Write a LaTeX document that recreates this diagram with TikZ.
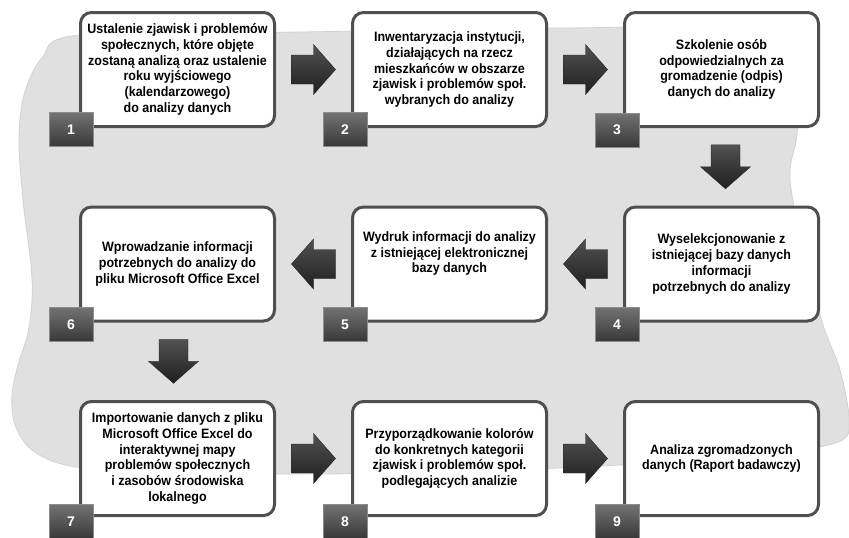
\documentclass[tikz,border=0pt]{standalone}
\usepackage{fontspec}
\setmainfont{Liberation Sans}
\newfontfamily\boxfont{Liberation Sans}[FakeStretch=0.92]
\usetikzlibrary{calc}

\definecolor{blobgray}{HTML}{E0E0E0}
\definecolor{blobedge}{HTML}{D2D2D2}
\definecolor{framegray}{HTML}{4F4F4F}

\tikzset{
  stepbox/.style={draw=framegray, line width=3pt, fill=white, rounded corners=11pt,
    minimum width=194pt, minimum height=114pt, inner sep=0pt, align=center,
    font=\boxfont\bfseries\fontsize{13.6}{15.8}\selectfont},
  numbox/.style={draw=black!45, line width=0.6pt, top color=black!55, bottom color=black!78,
    minimum width=44pt, minimum height=34pt, inner sep=0pt, text=white,
    font=\bfseries\fontsize{14}{16}\selectfont},
  flowarrow/.style={top color=black!68, bottom color=black!88, draw=black!85, line width=0.4pt},
  blockarrow/.pic={
    \path[flowarrow] (-22,-14.5) -- (0,-14.5) -- (0,-25) -- (22,0) -- (0,25)
      -- (0,14.5) -- (-22,14.5) -- cycle;
  }
}

\begin{document}
\begin{tikzpicture}[x=1pt, y=-1pt]
\useasboundingbox (0,0) rectangle (849,538);

% soft grey backdrop behind the flow
\path[fill=blobgray, draw=blobedge, line width=0.8pt]
  plot[smooth cycle, tension=0.55] coordinates {
    (80,35) (300,32) (560,28) (780,31) (798,85) (797,135) (790,180)
    (806,260) (823,325) (840,370) (849,420) (838,442) (760,455)
    (620,465) (450,472) (300,474) (150,472) (70,466) (32,450)
    (15,425) (12,395) (18,365) (28,333) (32,300) (31,265) (23,200)
    (19,140) (24,95) (42,58)};

% process steps
\node[stepbox] (b1) at (177.5,69.5) {Ustalenie zjawisk i problemów\\społecznych, które objęte\\zostaną analizą oraz ustalenie\\roku wyjściowego\\(kalendarzowego)\\do analizy danych};
\node[stepbox] (b2) at (449.5,69.5) {Inwentaryzacja instytucji,\\działających na rzecz\\mieszkańców w obszarze\\zjawisk i problemów społ.\\wybranych do analizy};
\node[stepbox] (b3) at (721.5,69.5) {Szkolenie osób\\odpowiedzialnych za\\gromadzenie (odpis)\\danych do analizy};
\node[stepbox] (b4) at (721.5,264) {Wyselekcjonowanie z\\istniejącej bazy danych\\informacji\\potrzebnych do analizy};
\node[stepbox] (b5) at (449.5,264) {Wydruk informacji do analizy\\z istniejącej elektronicznej\\bazy danych\\[8pt]};
\node[stepbox] (b6) at (177.5,264) {Wprowadzanie informacji\\potrzebnych do analizy do\\pliku Microsoft Office Excel};
\node[stepbox] (b7) at (177.5,458.5) {Importowanie danych z pliku\\Microsoft Office Excel do\\interaktywnej mapy\\problemów społecznych\\i zasobów środowiska\\lokalnego};
\node[stepbox] (b8) at (449.5,458.5) {Przyporządkowanie kolorów\\do konkretnych kategorii\\zjawisk i problemów społ.\\podlegających analizie};
\node[stepbox] (b9) at (721.5,458.5) {Analiza zgromadzonych\\danych (Raport badawczy)};

% step numbers
\node[numbox] (n1) at (71,129.5) {1};
\node[numbox] (n2) at (345,129.5) {2};
\node[numbox] (n3) at (617,130) {3};
\node[numbox] (n4) at (617,324.5) {4};
\node[numbox] (n5) at (345,324.5) {5};
\node[numbox] (n6) at (71,324.5) {6};
\node[numbox] (n7) at (71,521.5) {7};
\node[numbox] (n8) at (345,521.5) {8};
\node[numbox] (n9) at (617,521.5) {9};

% block arrows between consecutive steps
\pic at ($(b1.east)!0.5!(b2.west)$) {blockarrow};
\pic at ($(b2.east)!0.5!(b3.west)$) {blockarrow};
\pic[rotate=-90] at ($(b3.south)!0.5!(b4.north)+(4,0)$) {blockarrow};
\pic[rotate=180] at ($(b4.west)!0.5!(b5.east)$) {blockarrow};
\pic[rotate=180] at ($(b5.west)!0.5!(b6.east)$) {blockarrow};
\pic[rotate=-90] at ($(b6.south)!0.5!(b7.north)+(-4,0)$) {blockarrow};
\pic at ($(b7.east)!0.5!(b8.west)$) {blockarrow};
\pic at ($(b8.east)!0.5!(b9.west)$) {blockarrow};
\end{tikzpicture}
\end{document}
